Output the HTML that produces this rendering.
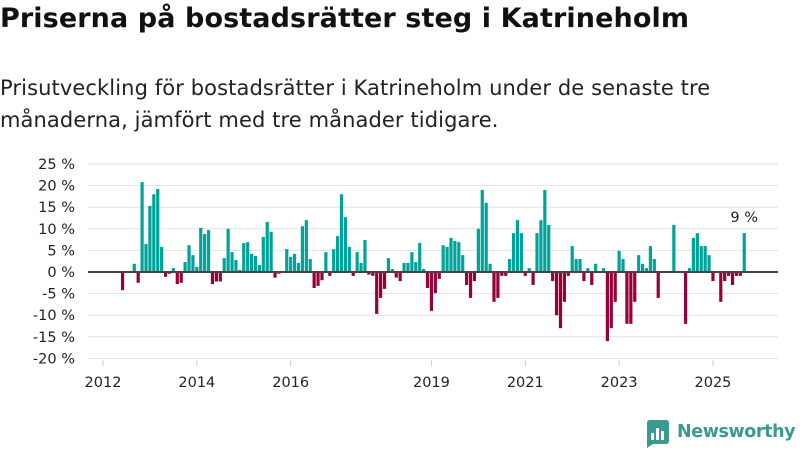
<!DOCTYPE html>
<html><head><meta charset="utf-8"><style>
body{margin:0;width:800px;height:450px;background:#fff;font-family:"DejaVu Sans",sans-serif;overflow:hidden;position:relative;color:#111}
h1{position:absolute;left:0;top:3px;margin:0;font-size:27px;font-weight:bold;letter-spacing:0.1px;white-space:nowrap}
p{position:absolute;left:0;top:72px;margin:0;font-size:21px;line-height:32px;color:#222;white-space:nowrap;letter-spacing:0.1px}
svg{position:absolute;left:0;top:0}
.logo{position:absolute;left:645px;top:419px}
.lt{position:absolute;left:677px;top:422px;font-size:17.5px;font-weight:bold;color:#3a9a8f;letter-spacing:-0.4px}
</style></head><body>
<h1>Priserna på bostadsrätter steg i Katrineholm</h1>
<p>Prisutveckling för bostadsrätter i Katrineholm under de senaste tre<br>månaderna, jämfört med tre månader tidigare.</p>
<svg id="chart" width="800" height="450"></svg>
<svg class="logo" width="26" height="30"><path d="M2 4 Q2 1 5 1 L21 1 Q24 1 24 4 L24 22 Q24 25 21 25 L8 25 L2 29 Z" fill="#3a9a8f"/><rect x="6" y="14" width="3" height="7" fill="#fff"/><rect x="11" y="9" width="3" height="12" fill="#fff"/><rect x="16" y="12" width="3" height="9" fill="#fff"/></svg>
<div class="lt">Newsworthy</div>
<script>
const values=[-4.2,0,0,1.9,-2.5,20.8,6.5,15.3,18,19.2,5.8,-1.1,-0.4,0.9,-2.8,-2.5,2.3,6.2,3.9,1.2,10.2,8.8,9.7,-2.8,-2.2,-2.2,3.2,10,4.6,2.8,0.5,6.7,6.9,4.2,3.7,1.6,8.1,11.6,9.3,-1.3,-0.4,
0,5.3,3.5,4.2,2.1,10.6,12,3,-3.7,-3.2,-1.9,4.6,-0.9,5.3,8.3,18,12.7,5.8,-0.9,4.6,2.1,7.4,-0.6,-0.9,-9.7,-6,-3.9,3.2,0.7,-1.3,-2.1,2.1,2.1,4.6,2.3,6.7,0.7,-3.7,-9,-4.9,-1.6,
6.2,5.8,7.9,7.2,6.9,3.9,-3,-6,-2.1,10,19,16,1.9,-6.9,-6,-0.9,-0.9,3,9,12,9,-0.9,0.9,-3,9,12,19,10.9,-2.1,-10,-13,-6.9,-0.9,6,3,3,-2.1,0.9,-3,1.9,0,0.9,-16,-13,-6.9,
4.9,3,-12,-12,-6.9,3.9,1.9,0.9,6,3,-6,0,0,0,10.9,0,0,-12,0.9,7.9,9,6,6,3.9,-2.1,0,-6.9,-2.1,-0.9,-3,-0.9,-0.9,9];
const startMonth=5; // months after Jan 2012
const yTicks=[25,20,15,10,5,0,-5,-10,-15,-20];
const xYears=[2012,2014,2016,2019,2021,2023,2025];
const lastLabel="9 %";
const NS="http://www.w3.org/2000/svg";
const svg=document.getElementById('chart');
function y(v){return 272-v*4.32;}
function x(m){return 103+m*3.91;}
function mk(t,a){const e=document.createElementNS(NS,t);for(const k in a)e.setAttribute(k,a[k]);svg.appendChild(e);return e;}
yTicks.forEach(t=>{
  const g=mk('line',{x1:88,x2:778,y1:y(t),y2:y(t),stroke:'#e2e2e2','stroke-width':1});
  
  
  const l=mk('text',{x:75,y:y(t)+5,'text-anchor':'end','font-size':14.5,fill:'#222','font-family':'DejaVu Sans, sans-serif'});
  l.textContent=t+' %';
  
  
});
xYears.forEach(yr=>{
  const xx=x((yr-2012)*12);
  const tk=mk('line',{x1:xx,x2:xx,y1:360,y2:366,stroke:'#ccc','stroke-width':1});
  
  
  const l=mk('text',{x:xx,y:387,'text-anchor':'middle','font-size':14.5,fill:'#222','font-family':'DejaVu Sans, sans-serif'});
  l.textContent=yr;
  
  
});
values.forEach((v,i)=>{
  const cx=x(startMonth+i);
  const r=mk('rect',{x:cx-1.6,width:3.2,y:Math.min(y(v),y(0)),height:Math.abs(y(v)-y(0)),fill:v>=0?'#00a399':'#990038'});
  
  
});
const z=mk('line',{x1:88,x2:778,y1:y(0),y2:y(0),stroke:'#444','stroke-width':2});


const last=values.length-1;
const a=mk('text',{x:x(startMonth+last),y:y(values[last])-11,'text-anchor':'middle','font-size':14.5,fill:'#222','font-family':'DejaVu Sans, sans-serif'});
a.textContent=lastLabel;


</script>
</body></html>
